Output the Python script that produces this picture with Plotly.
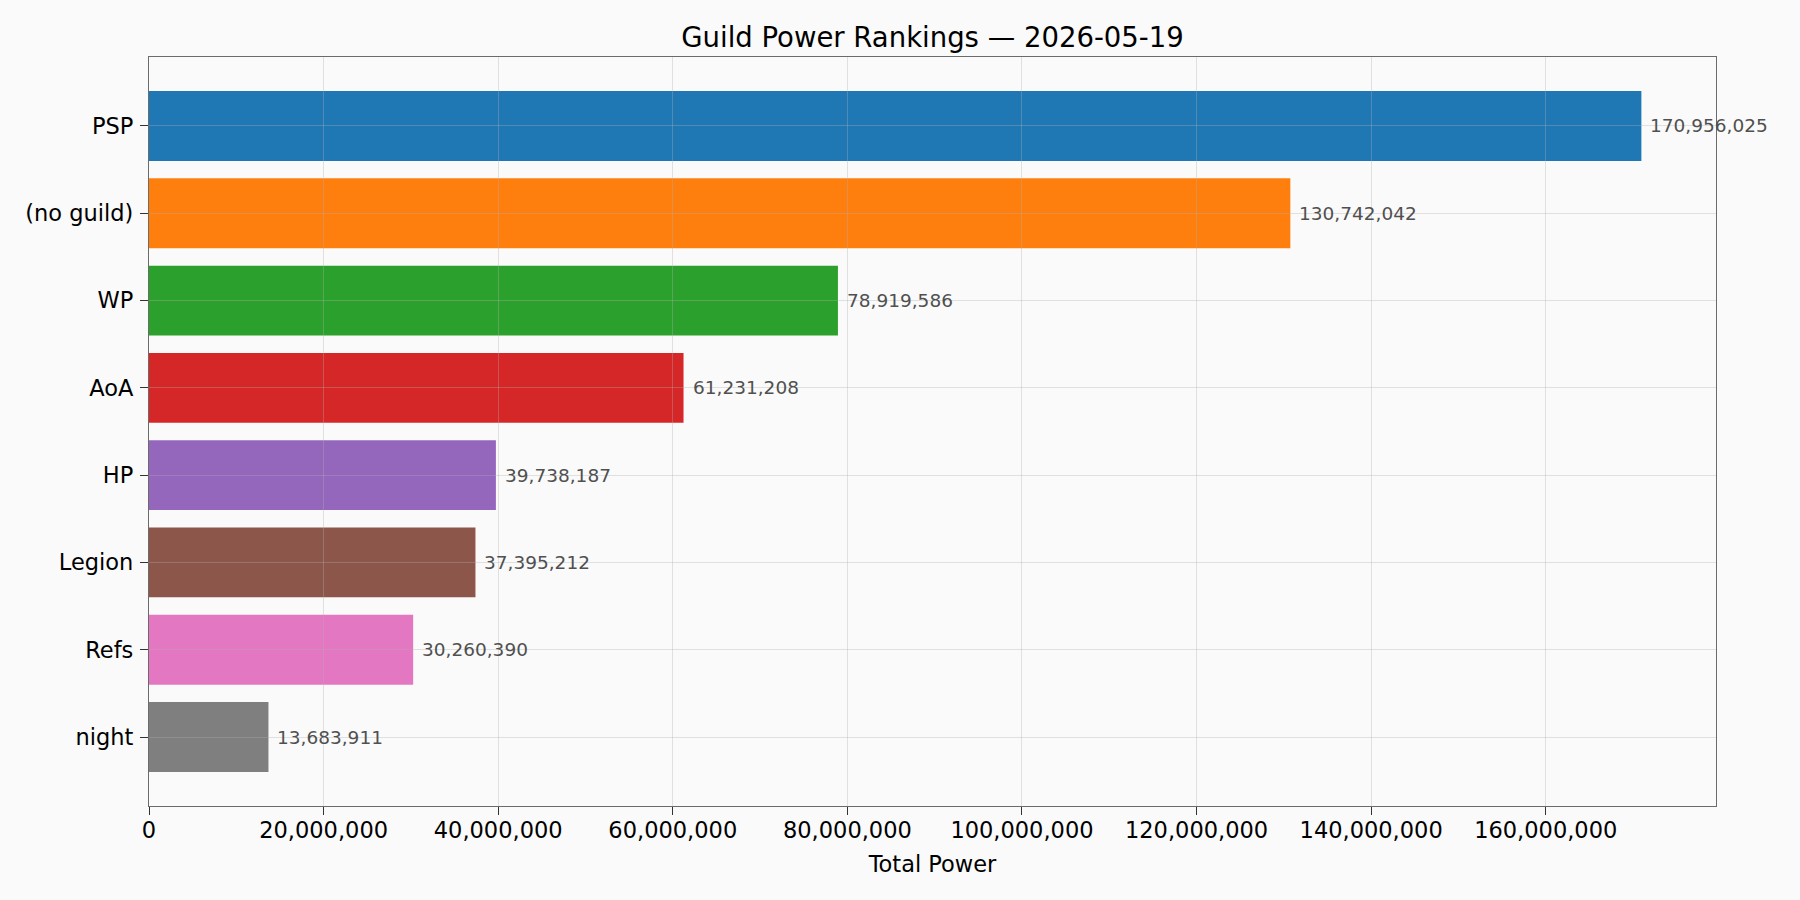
import plotly.graph_objects as go

# Guild totals, highest first
guilds = ['PSP', '(no guild)', 'WP', 'AoA', 'HP', 'Legion', 'Refs', 'night']
power = [170956025, 130742042, 78919586, 61231208, 39738187, 37395212, 30260390, 13683911]
bar_colors = ['#1f77b4', '#ff7f0e', '#2ca02c', '#d62728', '#9467bd', '#8c564b', '#e377c2', '#7f7f7f']
x_ticks = [0, 20000000, 40000000, 60000000, 80000000, 100000000, 120000000, 140000000, 160000000]

pos = list(range(len(guilds)))
x_range = [0, max(power) * 1.05]
y_range = [len(guilds) - 1 + 0.79, -0.79]

font = 'DejaVu Sans'
grid = 'rgba(176,176,176,0.35)'
frame = '#6b6b6b'

fig = go.Figure()
fig.add_trace(go.Bar(
    x=power, y=pos, orientation='h', width=0.8,
    marker=dict(color=bar_colors, line=dict(width=0)),
    hovertemplate='%{x:,}<extra></extra>',
))
# empty trace so the overlay subplot (grid on top of bars) gets drawn
fig.add_trace(go.Scatter(x=[None], y=[None], xaxis='x2', yaxis='y2',
                         mode='markers', hoverinfo='skip'))

# value labels just past the bar ends
for p, v in zip(pos, power):
    fig.add_annotation(x=v, y=p, xref='x', yref='y', text=f'{v:,}',
                       showarrow=False, xanchor='left', yanchor='middle', xshift=7,
                       font=dict(family=font, size=18.5, color='#505050'))

fig.update_layout(
    width=1800, height=900,
    paper_bgcolor='#fafafa', plot_bgcolor='rgba(0,0,0,0)',
    font=dict(family=font, size=22.5, color='black'),
    margin=dict(l=149, r=84, t=57, b=94),
    showlegend=False, bargap=0.2,
    title=dict(text='Guild Power Rankings — 2026-05-19', xref='paper', x=0.5, xanchor='center',
               y=1 - 37 / 900, yanchor='middle', font=dict(size=27.5, color='black')),
    xaxis=dict(range=x_range, tickvals=x_ticks, tickformat=',', showgrid=False,
               showline=True, linecolor=frame, linewidth=1.3, mirror=True,
               ticks='outside', ticklen=8, tickcolor='#333333', tickwidth=1.3,
               zeroline=False, ticklabelstandoff=-4,
               title=dict(text='Total Power', standoff=14, font=dict(size=22.5))),
    yaxis=dict(range=y_range, tickvals=pos, ticktext=guilds, showgrid=False,
               showline=True, linecolor=frame, linewidth=1.3, mirror=True,
               ticks='outside', ticklen=8, tickcolor='#333333', tickwidth=1.3,
               zeroline=False, ticklabelstandoff=2),
    xaxis2=dict(range=x_range, tickvals=x_ticks, showgrid=True, gridcolor=grid, gridwidth=1.3,
                showticklabels=False, zeroline=False, anchor='y2', domain=[0, 1]),
    yaxis2=dict(range=y_range, tickvals=pos, showgrid=True, gridcolor=grid, gridwidth=1.3,
                showticklabels=False, zeroline=False, anchor='x2', domain=[0, 1]),
)

fig.write_html('out.html', config={'displayModeBar': False},
               post_script="document.body.style.margin='0';document.body.style.overflow='hidden';")
